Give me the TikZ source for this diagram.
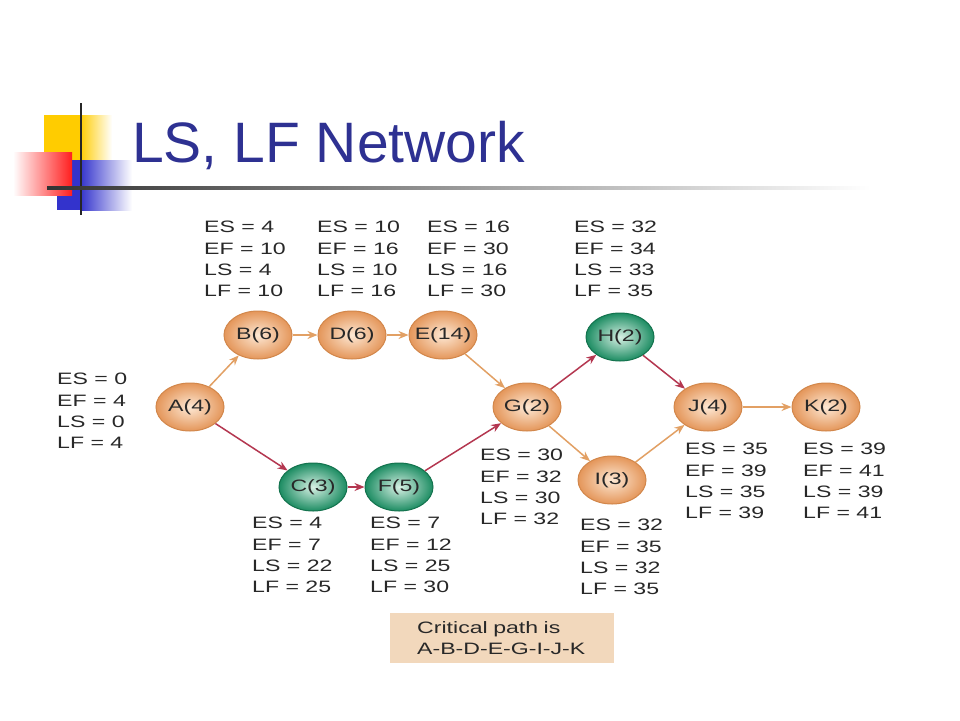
\documentclass[tikz,border=0pt]{standalone}
\usepackage{fontspec}
\setmainfont{Liberation Sans}
\newfontfamily\netfont[FakeStretch=1.4]{Liberation Sans}
\usetikzlibrary{shapes.geometric,arrows.meta}

\definecolor{titleblue}{RGB}{46,49,146}
\definecolor{infotext}{RGB}{40,40,40}
\definecolor{orout}{RGB}{228,150,90}
\definecolor{orin}{RGB}{253,232,212}
\definecolor{oredge}{RGB}{210,135,75}
\definecolor{grout}{RGB}{28,140,98}
\definecolor{grin}{RGB}{215,240,228}
\definecolor{gredge}{RGB}{20,115,78}
\definecolor{arrowor}{RGB}{226,160,100}
\definecolor{arrowred}{RGB}{180,55,80}
\definecolor{boxtan}{RGB}{242,216,188}
\definecolor{decoyellow}{RGB}{255,204,0}
\definecolor{decoblue}{RGB}{51,51,204}
\definecolor{decored}{RGB}{255,30,30}

\tikzset{
  act/.style={ellipse, minimum width=68pt, minimum height=48pt,
    inner xsep=-10pt, inner ysep=0pt, line width=1pt,
    font=\netfont\fontsize{16.5}{20}\selectfont, text=infotext},
  plain/.style={act, draw=oredge, inner color=orin, outer color=orout},
  crit/.style={act, draw=gredge, inner color=grin, outer color=grout},
  info/.style={font=\netfont\fontsize{16.5}{21.3}\selectfont, align=left,
    anchor=north west, inner sep=0pt, text=infotext},
  ora/.style={->, draw=arrowor, line width=1.5pt},
  reda/.style={->, draw=arrowred, line width=1.5pt}
}

\begin{document}
\begin{tikzpicture}[>={Stealth[length=10pt,width=8pt]}, x=1pt, y=-1pt]
	\useasboundingbox (0,0) rectangle (960,720);
	\fill[white] (0,0) rectangle (960,720);

	% corner decoration and title
	\fill[decoyellow] (44,115) rectangle (80,160);
	\shade[left color=decoyellow, right color=white] (80,115) rectangle (112,160);
	\fill[decoblue] (57,160) rectangle (80,210);
	\shade[left color=decoblue, right color=white] (80,160) rectangle (132,210);
	\shade[left color=white, right color=decored] (13,152) rectangle (72,195);
	\draw[line width=1.6pt, black!85] (81,103) -- (81,215);
	\shade[left color=black!80, right color=white] (47,186.8) rectangle (870,189.6);
	\node[anchor=base west, inner sep=0pt, text=titleblue,
	  font=\fontsize{57}{60}\selectfont] (title) at (132,162) {LS, LF Network};

	% activities
	\node[plain] (a) at (190,407) {A(4)};
	\node[plain] (b) at (258,335) {B(6)};
	\node[plain] (d) at (352,335) {D(6)};
	\node[plain] (e) at (443,335) {E(14)};
	\node[plain] (g) at (527,407) {G(2)};
	\node[crit] (h) at (620,337) {H(2)};
	\node[plain] (i) at (612,480) {I(3)};
	\node[plain] (j) at (708,407) {J(4)};
	\node[plain] (k) at (826,407) {K(2)};
	\node[crit] (c) at (313,487) {C(3)};
	\node[crit] (f) at (399,487) {F(5)};

	% times
	\node[info] (ta) at (57,373) {ES = 0\\EF = 4\\LS = 0\\LF = 4};
	\node[info] (tb) at (204,221) {ES = 4\\EF = 10\\LS = 4\\LF = 10};
	\node[info] (td) at (317,221) {ES = 10\\EF = 16\\LS = 10\\LF = 16};
	\node[info] (te) at (427,221) {ES = 16\\EF = 30\\LS = 16\\LF = 30};
	\node[info] (th) at (574,221) {ES = 32\\EF = 34\\LS = 33\\LF = 35};
	\node[info] (tg) at (480,449) {ES = 30\\EF = 32\\LS = 30\\LF = 32};
	\node[info] (tc) at (252,517) {ES = 4\\EF = 7\\LS = 22\\LF = 25};
	\node[info] (tf) at (370,517) {ES = 7\\EF = 12\\LS = 25\\LF = 30};
	\node[info] (ti) at (580,519) {ES = 32\\EF = 35\\LS = 32\\LF = 35};
	\node[info] (tj) at (685,443) {ES = 35\\EF = 39\\LS = 35\\LF = 39};
	\node[info] (tk) at (803,443) {ES = 39\\EF = 41\\LS = 39\\LF = 41};

	\node[info, anchor=north west, fill=boxtan, inner xsep=27pt, inner ysep=8pt,
	  text width=170pt] (cp) at (390,613) {Critical path is\\A-B-D-E-G-I-J-K};

	\draw[ora] (a) -- (b);
	\draw[reda] (a) -- (c);
	\draw[ora] (b) -- (d);
	\draw[ora] (d) -- (e);
	\draw[ora] (e) -- (g);
	\draw[reda] (c) -- (f);
	\draw[reda] (f) -- (g);
	\draw[reda] (g) -- (h);
	\draw[reda] (h) -- (j);
	\draw[ora] (g) -- (i);
	\draw[ora] (i) -- (j);
	\draw[ora] (j) -- (k);
\end{tikzpicture}
\end{document}
